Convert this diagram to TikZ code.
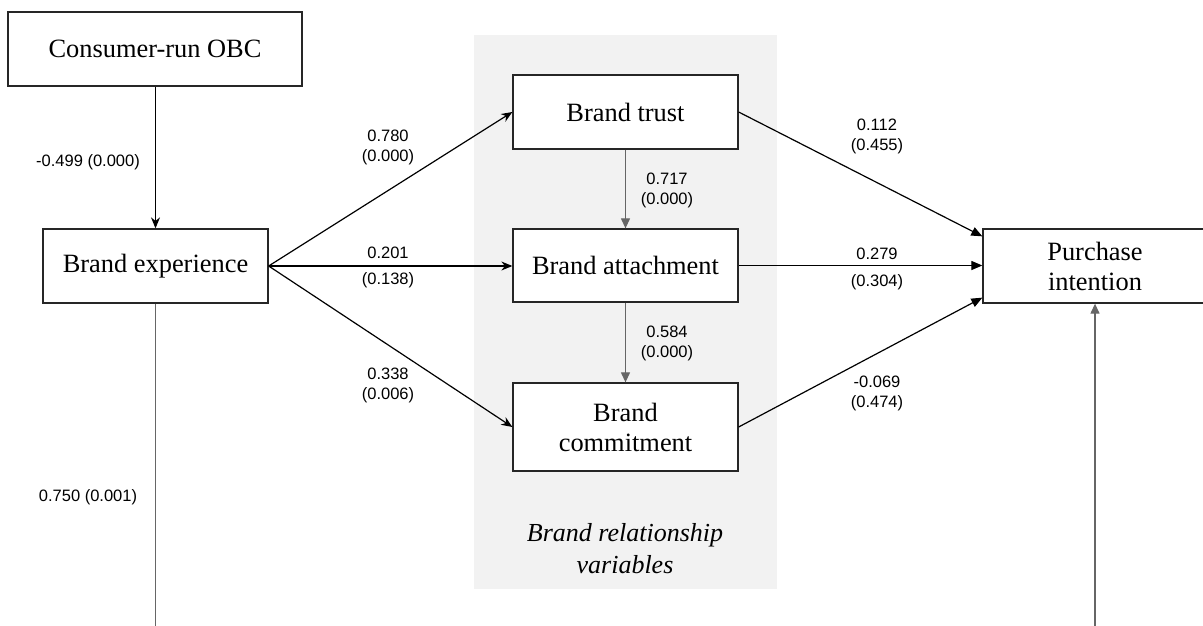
\documentclass[tikz,border=0pt]{standalone}
\usepackage{fontspec}
\setmainfont{Liberation Serif}
\newfontfamily\numfont{Liberation Sans}
\usetikzlibrary{arrows.meta}
\definecolor{panelgray}{HTML}{F2F2F2}
\definecolor{arrgray}{HTML}{666666}
\tikzset{
  box/.style={draw=black!85, line width=1.3pt, fill=white, inner sep=0pt, align=center,
    font=\fontsize{26.4}{30}\selectfont},
  num/.style={font=\numfont\fontsize{16.5}{20}\selectfont, align=center, inner sep=0pt},
  blk/.style={draw=black, line width=1.2pt, -{Stealth[length=11pt,width=9pt]}},
  blkt/.style={draw=black, line width=1.2pt, -{Triangle[length=11pt,width=9pt]}},
  gry/.style={draw=arrgray, line width=1.2pt, -{Triangle[length=10pt,width=9pt]}},
  gryline/.style={draw=arrgray, line width=1.2pt}
}
\begin{document}
\begin{tikzpicture}[x=1pt,y=-1pt]
\useasboundingbox (0,0) rectangle (1203,626);
\clip (0,0) rectangle (1203,626);
% panel
\fill[panelgray] (474,35) rectangle (777,589);
% nodes
\node[box, minimum width=294pt, minimum height=74pt] (obc) at (155,49) {Consumer-run OBC};
\node[box, minimum width=225pt, minimum height=74pt] (be) at (155.5,266) {Brand experience};
\node[box, minimum width=225pt, minimum height=74pt] (bt) at (625.5,112) {Brand trust};
\node[box, minimum width=225pt, minimum height=73pt] (ba) at (625.5,265.5) {Brand attachment};
\node[box, minimum width=225pt, minimum height=88pt] (bc) at (625.5,427) {Brand\\commitment};
\node[box, minimum width=224pt, minimum height=74pt] (pi) at (1095,266) {Purchase\\intention};
\node[font=\itshape\fontsize{26}{32}\selectfont, align=center, inner sep=0pt] (lbl) at (625,549) {Brand relationship\\variables};
% connectors
\draw[blk] (be.north |- obc.south) -- (be.north);
\draw[blk] (be.east) -- (bt.west);
\draw[blk] (be.east) -- (be.east -| ba.west);
\draw[blk] (be.east) -- (bc.west);
\draw[gry] (bt.south) -- (ba.north);
\draw[gry] (ba.south) -- (bc.north);
\draw[blkt] (bt.east) -- ([yshift=-8pt]pi.north west);
\draw[blkt] (ba.east) -- (ba.east -| pi.west);
\draw[blkt] (bc.east) -- ([yshift=6pt]pi.south west);
\coordinate (bl) at (155.5,640);
\coordinate (br) at (1095,640);
\draw[gryline] (be.south) -- (bl);
\draw[gry] (br) -- (pi.south);
% labels
\node[num] (l1) at (88,162) {-0.499 (0.000)};
\node[num] (l2) at (88,497) {0.750 (0.001)};
\node[num] (l3) at (388,147) {0.780\\(0.000)};
\node[num] (l4a) at (388,253) {0.201};
\node[num] (l4b) at (388,280) {(0.138)};
\node[num] (l5) at (388,385) {0.338\\(0.006)};
\node[num] (l6) at (667,190) {0.717\\(0.000)};
\node[num] (l7) at (667,343) {0.584\\(0.000)};
\node[num] (l8) at (877,136) {0.112\\(0.455)};
\node[num] (l9a) at (877,254) {0.279};
\node[num] (l9b) at (877,282) {(0.304)};
\node[num] (l10) at (877,393) {-0.069\\(0.474)};
\end{tikzpicture}
\end{document}
